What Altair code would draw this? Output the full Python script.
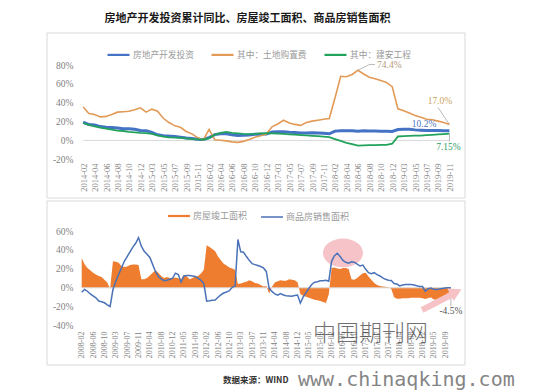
import altair as alt
import pandas as pd

# ---------------- categories ----------------
def month_labels(y0, y1, last_month):
    out = []
    for y in range(y0, y1 + 1):
        for m in range(2, (last_month if y == y1 else 12) + 1):
            out.append(f"{y}-{m:02d}")
    return out

top_months = month_labels(2014, 2019, 11)   # 65 points
bot_months = month_labels(2008, 2019, 11)   # 131 points
top_tick_labels = top_months[::2]
bot_tick_labels = bot_months[::4]

top_names = ["房地产开发投资", "其中：土地购置费", "其中：建安工程"]
top_colors = ["#4472C4", "#E39A57", "#22A35C"]
bot_names = ["房屋竣工面积", "商品房销售面积"]
bot_colors = ["#EE7D2F", "#4A72B8"]

# ---------------- top panel series (%) ----------------
invest = [
    19.3, 16.8, 16.4, 14.7, 14.1, 13.7, 13.2, 12.5, 12.4, 11.9, 10.5,
    10.4, 8.5, 6.0, 5.1, 4.6, 4.3, 3.5, 2.6, 2.0, 1.3, 1.0,
    3.0, 6.2, 7.2, 7.0, 6.1, 5.3, 5.4, 5.8, 6.6, 6.5, 6.9,
    8.9, 9.1, 9.3, 8.8, 8.5, 7.9, 7.9, 8.1, 7.8, 7.5, 7.0,
    9.9, 10.4, 10.3, 10.2, 9.7, 10.2, 10.1, 9.9, 9.7, 9.7, 9.5,
    11.6, 11.8, 11.9, 11.2, 10.9, 10.6, 10.5, 10.5, 10.3, 10.2]
land = [
    35.5, 28.5, 27.5, 25.0, 25.5, 27.5, 30.0, 30.5, 31.0, 32.5, 34.6,
    30.0, 33.2, 31.0, 23.5, 19.0, 15.5, 14.0, 9.5, 7.0, 3.0, 0.5,
    11.8, 0.8, 0.2, -0.5, -1.5, -2.0, -1.0, 1.0, 3.5, 5.0, 6.8,
    14.5, 17.5, 21.4, 18.5, 17.0, 16.0, 19.0, 20.5, 21.5, 22.5, 23.2,
    45.0, 68.0, 67.5, 70.0, 74.4, 70.5, 67.0, 65.5, 63.5, 61.5, 57.0,
    33.5, 31.5, 29.0, 26.5, 24.5, 22.5, 22.0, 20.5, 19.0, 17.0]
build = [
    18.5, 16.5, 15.0, 13.5, 12.5, 11.5, 10.5, 10.0, 9.0, 8.5, 8.0,
    7.8, 7.0, 5.5, 4.0, 3.3, 3.0, 2.8, 2.2, 1.6, 1.2, 1.0,
    2.5, 6.0, 8.0, 9.0, 8.0, 7.5, 7.0, 6.8, 7.0, 7.5, 7.8,
    7.5, 7.2, 6.9, 6.5, 6.1, 5.7, 5.3, 4.9, 4.5, 4.0, 3.5,
    1.5, -0.5, -2.5, -4.0, -5.5, -5.2, -5.0, -4.9, -4.8, -4.6, -3.5,
    4.2, 4.5, 4.8, 5.0, 5.2, 5.6, 6.0, 6.4, 6.8, 7.15]

# ---------------- bottom panel series (%) ----------------
completion = [
    31.5, 25.0, 21.0, 18.5, 16.0, 14.0, 12.5, 11.5, 8.5, 5.5, -1.0,
    28.0, 27.5, 26.5, 23.0, 22.0, 22.5, 24.0, 24.5, 24.5, 24.0, 9.0,
    9.0, 10.5, 13.0, 16.0, 18.5, 16.0, 12.5, 10.5, 11.5, 10.5, 10.5,
    11.0, 10.0, 9.0, 14.0, 12.0, 9.0, 10.5, 12.0, 12.5, 15.0, 19.0,
    45.0, 43.0, 41.0, 38.5, 33.0, 29.0, 25.5, 23.5, 21.5, 20.5, 19.0,
    4.0, 4.5, 5.5, 6.5, 8.0, 7.0, 5.0, 4.5, 3.0, 1.5, 2.0,
    -6.0, 1.0, 5.5, 7.0, 8.0, 7.5, 7.5, 9.0, 8.5, 8.0, 6.0,
    -6.5, -8.5, -9.5, -10.5, -11.5, -12.5, -13.0, -14.0, -15.0, -16.0, -7.0,
    21.0, 21.5, 20.5, 20.0, 21.0, 21.0, 20.0, 9.0, 8.5, 10.5, 13.0,
    15.5, 16.0, 12.0, 8.5, 5.0, 3.0, 2.0, 1.5, 1.0, 0.5, -1.0,
    -10.0, -11.5, -11.5, -11.0, -11.0, -11.0, -10.5, -10.5, -10.5, -10.5, -11.0,
    -11.9, -10.8, -10.3, -12.4, -12.7, -11.3, -10.0, -8.6, -5.5, -4.5]
sales = [
    -4.6, -1.8, -3.6, -6.5, -8.5, -10.5, -14.0, -14.8, -15.8, -18.0, -19.7,
    -1.8, 7.0, 14.0, 21.0, 28.0, 33.0, 38.0, 43.0, 47.0, 53.0, 44.0,
    38.5, 35.5, 32.0, 24.5, 17.0, 12.0, 9.5, 7.5, 8.0, 9.0, 10.1,
    15.5, 14.0, 6.0, 12.5, 13.0, 13.0, 12.5, 12.0, 10.0, 8.0, 4.5,
    -14.0, -13.6, -13.1, -12.8, -10.0, -7.5, -5.5, -4.5, -3.0, 0.5, 1.8,
    51.0, 38.0, 37.5, 33.0, 29.0, 25.5, 24.5, 23.5, 22.5, 21.0, 17.3,
    -0.5, -3.8, -6.5, -7.8, -6.0, -7.6, -8.3, -8.6, -8.9, -8.2, -7.6,
    -16.0, -9.5, -5.0, -0.5, 3.5, 6.0, 6.5, 7.5, 7.5, 8.0, 7.0,
    28.0, 34.0, 36.5, 33.0, 29.0, 27.0, 26.0, 27.5, 27.0, 25.0, 23.0,
    24.0, 19.5, 16.0, 15.0, 16.0, 14.0, 12.5, 10.5, 9.0, 8.0, 7.7,
    4.5, 4.0, 2.0, 3.0, 3.5, 3.5, 3.5, 3.0, 2.2, 1.5, 1.3,
    -3.6, -0.9, -0.3, -1.6, -1.8, -1.3, -0.6, -0.1, 0.1, 0.2]

# ---------------- tables ----------------
top_df = pd.concat([
    pd.DataFrame({"month": top_months, "v": vals, "s": name})
    for name, vals in zip(top_names, [invest, land, build])
], ignore_index=True)
bot_df = pd.concat([
    pd.DataFrame({"month": bot_months, "v": vals, "s": name})
    for name, vals in zip(bot_names, [completion, sales])
], ignore_index=True)

SERIF = "Liberation Serif"
CJK = "Noto Sans CJK SC"
LABEL_GRAY = "#7f7f7f"

# ---------------- scales & axes ----------------
x_top_scale = alt.Scale(type="point", domain=top_months, range=[80.3, 452.3], padding=0.5)
y_top_scale = alt.Scale(domain=[-20, 80], range=[159.3, 65], nice=False, zero=False)
x_bot_scale = alt.Scale(type="point", domain=bot_months, range=[80.3, 452.3], padding=0.5)
y_bot_scale = alt.Scale(domain=[-40, 60], range=[325.7, 231], nice=False, zero=False)

x_top_axis = alt.Axis(orient="bottom", offset=-231, values=top_tick_labels, labelAngle=-90,
                      labelFont=SERIF, labelFontSize=8.5, labelColor=LABEL_GRAY, labelPadding=3,
                      domain=False, ticks=False, grid=False, title=None,
                      labelOverlap=False, labelBound=False)
y_top_axis = alt.Axis(orient="left", offset=-75, values=[-20, 0, 20, 40, 60, 80],
                      labelExpr="datum.value + '%'", labelFont=SERIF, labelFontSize=9.5,
                      labelColor=LABEL_GRAY, labelPadding=2, domain=False, ticks=False,
                      grid=False, title=None)
x_bot_axis = alt.Axis(orient="bottom", offset=-62, values=bot_tick_labels, labelAngle=-90,
                      labelFont=SERIF, labelFontSize=8, labelColor=LABEL_GRAY, labelPadding=2,
                      domain=False, ticks=False, grid=False, title=None,
                      labelOverlap=False, labelBound=False)
y_bot_axis = alt.Axis(orient="left", offset=-75, values=[-40, -20, 0, 20, 40, 60],
                      labelExpr="datum.value + '%'", labelFont=SERIF, labelFontSize=9.5,
                      labelColor=LABEL_GRAY, labelPadding=2, domain=False, ticks=False,
                      grid=False, title=None)

XT = alt.X("month:O", scale=x_top_scale, axis=x_top_axis, sort=None, title=None)
YT = alt.Y("v:Q", scale=y_top_scale, axis=y_top_axis, title=None)
XB = alt.X("month:O", scale=x_bot_scale, axis=x_bot_axis, sort=None, title=None)
YB = alt.Y("v:Q", scale=y_bot_scale, axis=y_bot_axis, title=None)

top_legend = alt.Legend(title=None, orient="none", legendX=106, legendY=42, direction="horizontal",
                        columns=3, symbolType="stroke", symbolSize=484, symbolStrokeWidth=2.2,
                        labelFont=CJK, labelFontSize=8.7, labelColor="#9a9a9a", labelOffset=2,
                        columnPadding=13, padding=0)
color_top = alt.Color("s:N", scale=alt.Scale(domain=top_names, range=top_colors), legend=top_legend)

# ---------------- top panel ----------------
zero_top = alt.Chart(pd.DataFrame({"month": [top_months[0]], "m2": [top_months[-1]], "v": [0]})).mark_rule(
    color="#d9d9d9", strokeWidth=1).encode(x=XT, x2="m2:O", y=YT)

widths = [3.0, 1.6, 1.8]
top_lines = [
    alt.Chart(top_df).transform_filter(alt.datum.s == name).mark_line(strokeWidth=w).encode(
        x=XT, y=YT, color=color_top)
    for name, w in zip(top_names, widths)
]

lead_744 = alt.Chart(pd.DataFrame({"month": ["2018-06", "2018-08", "2018-09"], "v": [74.4, 80.5, 80.5]})).mark_line(
    color="#a8a8a8", strokeWidth=0.8).encode(x=XT, y=YT)
lead_170 = alt.Chart(pd.DataFrame({"month": ["2019-09", "2019-11"], "v": [35.0, 17.0]})).mark_line(
    color="#a8a8a8", strokeWidth=0.8).encode(x=XT, y=YT)
lead_715 = alt.Chart(pd.DataFrame({"month": ["2019-11"], "v": [7.15], "v2": [-1.0]})).mark_rule(
    color="#a8a8a8", strokeWidth=0.8).encode(x=XT, y=YT, y2="v2:Q")

def note(month, v, text, color, dx=0, align="center", xenc=None, yenc=None):
    return alt.Chart(pd.DataFrame({"month": [month], "v": [v]})).mark_text(
        text=text, color=color, font=SERIF, fontSize=9.5, dx=dx, align=align, baseline="middle"
    ).encode(x=xenc, y=yenc)

t744 = note("2018-09", 80.5, "74.4%", "#b39a7c", dx=2, align="left", xenc=XT, yenc=YT)
t170 = note("2019-09", 42.0, "17.0%", "#cda45f", dx=2, xenc=XT, yenc=YT)
t102 = note("2019-07", 17.4, "10.2%", "#4f76c0", dx=-2.5, xenc=XT, yenc=YT)
t715 = note("2019-11", -6.6, "7.15%", "#2e9e6a", dx=-1, xenc=XT, yenc=YT)

top_group = alt.layer(zero_top, *top_lines, lead_744, lead_170, lead_715, t744, t170, t102, t715)

# ---------------- bottom panel ----------------
ellipse = alt.Chart(pd.DataFrame({"month": ["2016-06"], "v": [36.8]})).mark_point(
    shape="M-1,0A1,0.72,0,1,0,1,0A1,0.72,0,1,0,-1,0Z", size=1600, filled=True,
    color="#f4b4bb", opacity=0.8, strokeWidth=0).encode(x=XB, y=YB)

zero_bot = alt.Chart(pd.DataFrame({"month": [bot_months[0]], "m2": [bot_months[-1]], "v": [0]})).mark_rule(
    color="#d9d9d9", strokeWidth=1).encode(x=XB, x2="m2:O", y=YB)

fill_legend = alt.Legend(title=None, orient="none", legendX=168, legendY=205,
                         symbolType="M-1,-0.1L1,-0.1L1,0.1L-1,0.1Z", symbolSize=484,
                         symbolStrokeWidth=0, symbolOpacity=1, labelFont=CJK, labelFontSize=9,
                         labelColor="#9a9a9a", labelOffset=3, padding=0)
stroke_legend = alt.Legend(title=None, orient="none", legendX=260, legendY=205,
                           symbolType="stroke", symbolSize=484, symbolStrokeWidth=1.5,
                           labelFont=CJK, labelFontSize=9, labelColor="#9a9a9a", labelOffset=2,
                           padding=0)

area = alt.Chart(bot_df).transform_filter(alt.datum.s == bot_names[0]).mark_area(opacity=1).encode(
    x=XB, y=YB, y2=alt.datum(0),
    fill=alt.Fill("s:N", scale=alt.Scale(domain=[bot_names[0]], range=[bot_colors[0]]), legend=fill_legend))
line = alt.Chart(bot_df).transform_filter(alt.datum.s == bot_names[1]).mark_line(strokeWidth=1.5).encode(
    x=XB, y=YB,
    stroke=alt.Stroke("s:N", scale=alt.Scale(domain=[bot_names[1]], range=[bot_colors[1]]), legend=stroke_legend))

lead_45 = alt.Chart(pd.DataFrame({"month": ["2019-11"], "v": [-4.5], "v2": [-19.5]})).mark_rule(
    color="#a8a8a8", strokeWidth=0.8).encode(x=XB, y=YB, y2="v2:Q")
t45 = note("2019-11", -24.5, "-4.5%", "#555555", xenc=XB, yenc=YB)

bot_group = alt.layer(ellipse, area, zero_bot, line, lead_45, t45)

# ---------------- decorations (frames, title, source, watermark) ----------------
one = pd.DataFrame({"k": [0]})
frame_top = alt.Chart(one).mark_rect(fillOpacity=0, stroke="#d9d9d9", strokeWidth=1).encode(
    x=alt.value(47), x2=alt.value(465), y=alt.value(33), y2=alt.value(198))
frame_bot = alt.Chart(one).mark_rect(fillOpacity=0, stroke="#d9d9d9", strokeWidth=1).encode(
    x=alt.value(47), x2=alt.value(465), y=alt.value(201), y2=alt.value(365))
title = alt.Chart(one).mark_text(text="房地产开发投资累计同比、房屋竣工面积、商品房销售面积",
                                 font=CJK, fontSize=11, fontWeight="bold", color="#1a1a1a",
                                 align="center", baseline="middle").encode(
    x=alt.value(247.5), y=alt.value(19))
source = alt.Chart(one).mark_text(text="数据来源：WIND", font=CJK, fontSize=8.5, fontWeight="bold",
                                  color="#333333", align="left", baseline="middle").encode(
    x=alt.value(223), y=alt.value(380))
arrow = alt.Chart(one).mark_rule(color="#f6c2c6", strokeWidth=6).encode(
    x=alt.value(422), y=alt.value(310), x2=alt.value(452), y2=alt.value(294.5))
arrow_head = alt.Chart(one).mark_point(shape="triangle-right", size=200, filled=True, color="#f6c2c6",
                                       opacity=1, angle=333).encode(x=alt.value(456), y=alt.value(292))
wm_cn = alt.Chart(one).mark_text(text="中国期刊网", font=CJK, fontSize=23, fontWeight=300,
                                 color="#3a3a3a", opacity=0.72, align="left", baseline="middle").encode(
    x=alt.value(313), y=alt.value(334))
wm_url = alt.Chart(one).mark_text(text="www.chinaqking.com", font="DejaVu Sans Mono", fontSize=20,
                                  color="#858585", align="left", baseline="middle").encode(
    x=alt.value(298), y=alt.value(380))

deco = alt.layer(frame_top, frame_bot, title, source, arrow, arrow_head, wm_cn, wm_url)

chart = alt.layer(top_group, bot_group, deco).resolve_scale(
    x="independent", y="independent"
).properties(
    width=539, height=391, autosize=alt.AutoSizeParams(type="none"), padding=0, background="white"
).configure_view(stroke=None)

chart.save("out.html", embed_options={"renderer": "svg", "actions": False})
